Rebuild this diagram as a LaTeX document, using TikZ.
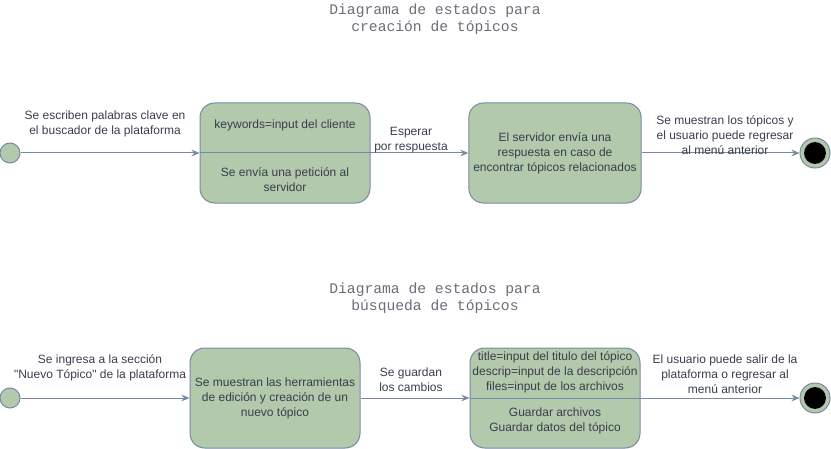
\documentclass[tikz,border=0pt]{standalone}
\usepackage{fontspec}
\setmainfont{Liberation Sans}
\newfontfamily\titlefont{Liberation Mono}
\usetikzlibrary{arrows.meta}

\definecolor{estadofill}{HTML}{B2C9AB}
\definecolor{estadoline}{HTML}{788AA3}
\definecolor{textogris}{HTML}{3A3D4D}

\tikzset{
  estado/.style={draw=estadoline, fill=estadofill, rounded corners=11pt,
    minimum width=127.5pt, minimum height=75pt, line width=0.75pt},
  inicio/.style={circle, draw=estadoline, fill=estadofill, minimum size=15pt,
    inner sep=0pt, line width=0.75pt},
  fin/.style={circle, draw=estadoline, fill=estadofill, minimum size=22.5pt,
    inner sep=0pt, line width=0.75pt},
  trans/.style={draw=estadoline, line width=0.75pt,
    -{Stealth[length=6pt,width=5pt]}},
  etiqueta/.style={text=textogris, align=center,
    font=\fontsize{9}{11.25}\selectfont},
  titulo/.style={text=textogris!75, align=center,
    font=\titlefont\fontsize{11}{13}\selectfont}
}

\begin{document}
\begin{tikzpicture}[x=0.75pt,y=-0.75pt]
		\useasboundingbox (0,0) rectangle (831,449);
		% creacion de topicos
		\node[titulo] (t1) at (435,19) {Diagrama de estados para\\creación de tópicos};
		\node[inicio] (i1) at (10,153) {};
		\node[estado] (b1) at (285,153) {};
		\draw[estadoline, line width=0.75pt] (b1.west) -- (b1.east);
		\node[etiqueta] (b1a) at (285,125) {keywords=input del cliente};
		\node[etiqueta] (b1b) at (285,180) {Se envía una petición al\\servidor};
		\node[estado, etiqueta] (b2) at (555,153) {El servidor envía una\\respuesta en caso de\\encontrar tópicos relacionados};
		\node[fin] (f1) at (815,153) {};
		\fill[black] (f1) circle (8.2pt);
		\draw[trans] (i1) -- (b1.west);
		\draw[trans] (b1.east) -- (b2.west);
		\draw[trans] (b2.east) -- (f1.west);
		\node[etiqueta] (l1) at (105,124) {Se escriben palabras clave en\\el buscador de la plataforma};
		\node[etiqueta] (l2) at (411,140) {Esperar\\por respuesta};
		\node[etiqueta] (l3) at (725,135) {Se muestran los tópicos y\\el usuario puede regresar\\al menú anterior};
		% busqueda de topicos
		\node[titulo] (t2) at (435,298) {Diagrama de estados para\\búsqueda de tópicos};
		\node[inicio] (i2) at (10,398) {};
		\node[estado, etiqueta] (b3) at (275,398) {Se muestran las herramientas\\de edición y creación de un\\nuevo tópico};
		\node[estado] (b4) at (555,398) {};
		\draw[estadoline, line width=0.75pt] (b4.west) -- (b4.east);
		\node[etiqueta] (b4a) at (555,372) {title=input del titulo del tópico\\descrip=input de la descripción\\files=input de los archivos};
		\node[etiqueta] (b4b) at (555,420.5) {Guardar archivos\\Guardar datos del tópico};
		\node[fin] (f2) at (815,398) {};
		\fill[black] (f2) circle (8.2pt);
		\draw[trans] (i2) -- (b3.west);
		\draw[trans] (b3.east) -- (b4.west);
		\draw[trans] (b4.east) -- (f2.west);
		\node[etiqueta] (l4) at (100,368) {Se ingresa a la sección\\\textquotedbl Nuevo Tópico\textquotedbl{} de la plataforma};
		\node[etiqueta] (l5) at (411,380) {Se guardan\\los cambios};
		\node[etiqueta] (l6) at (725,374) {El usuario puede salir de la\\plataforma o regresar al\\menú anterior};
	\end{tikzpicture}
\end{document}
